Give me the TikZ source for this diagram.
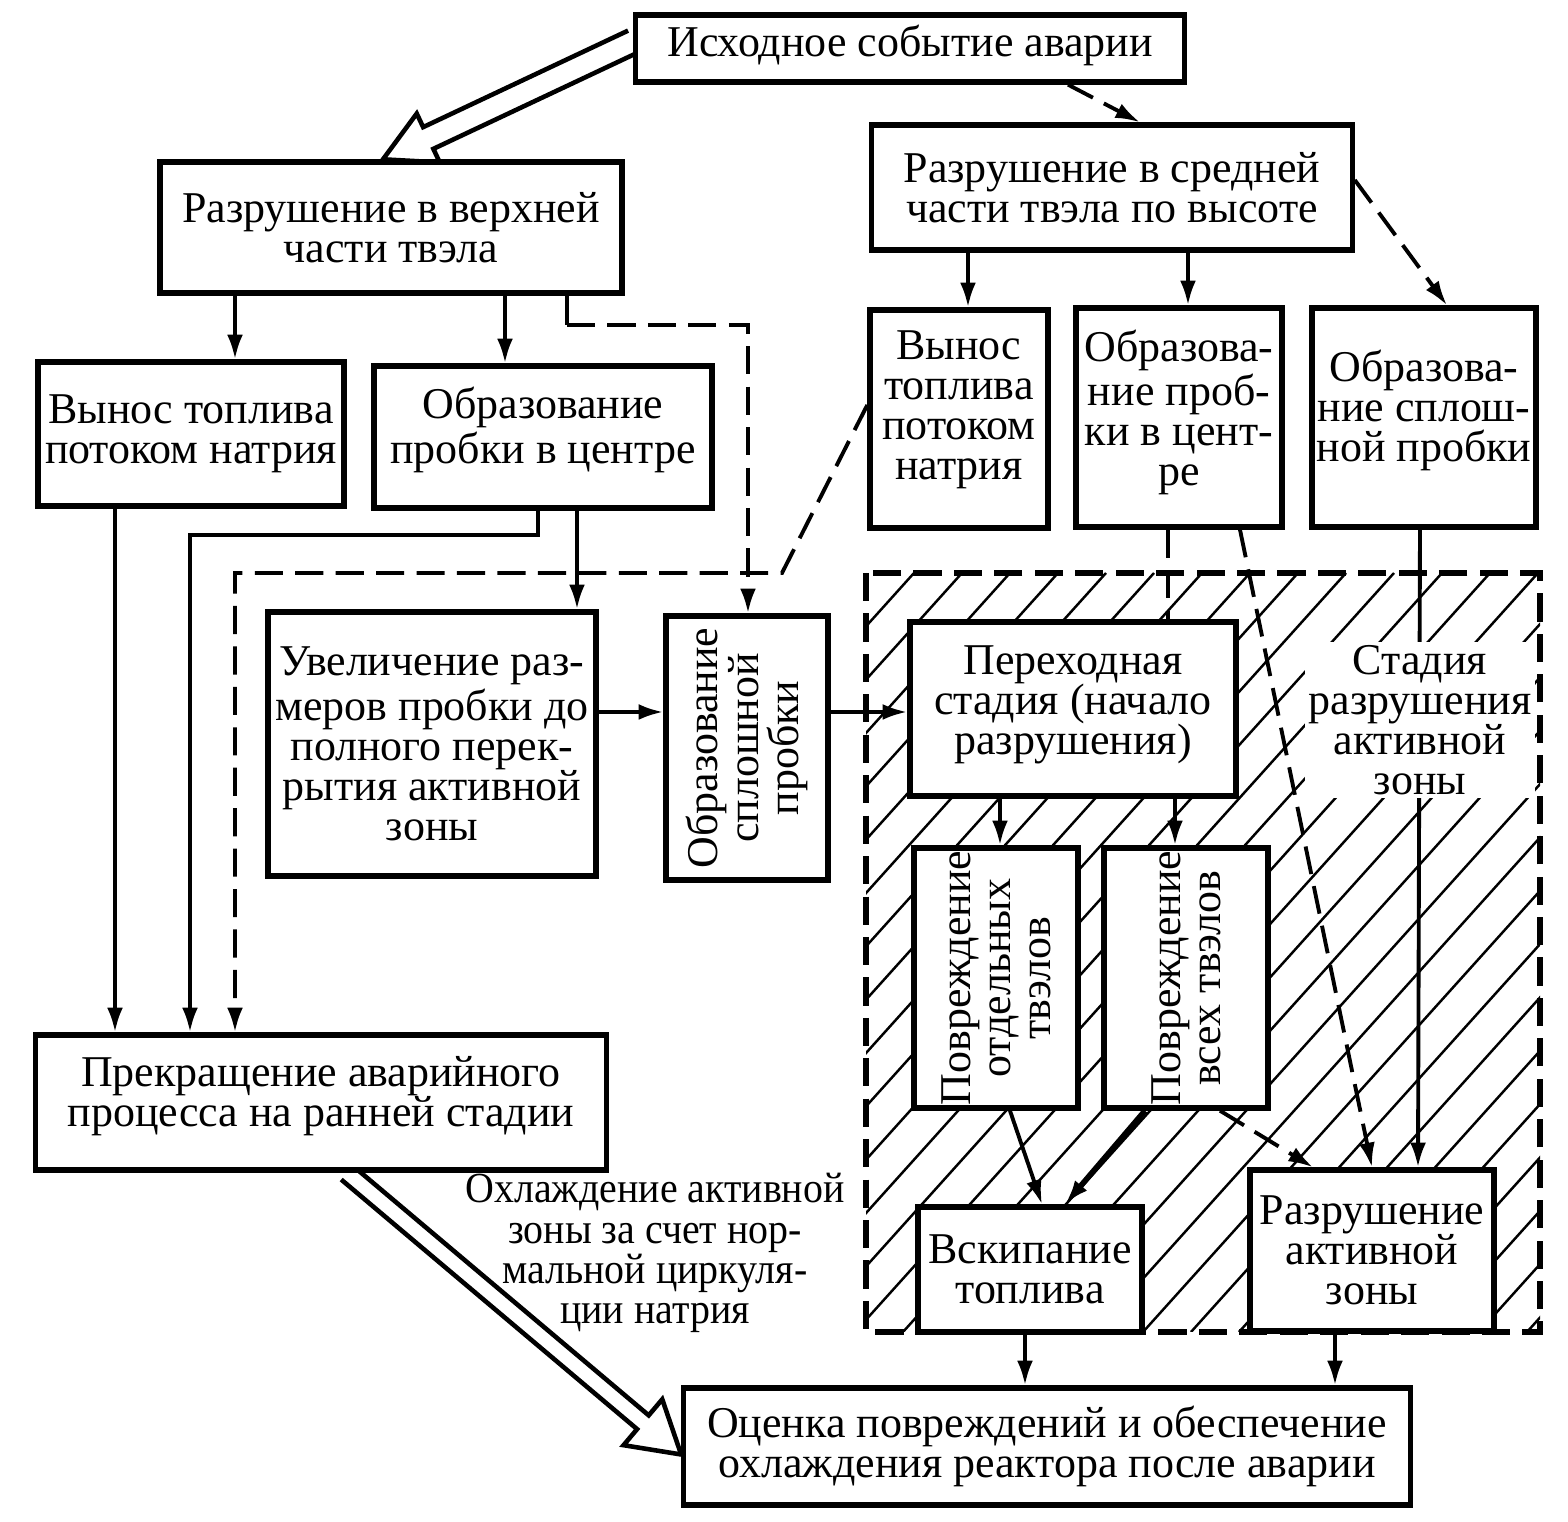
\documentclass[tikz,border=0pt]{standalone}
\usepackage{fontspec}
\setmainfont{Liberation Serif}
\newfontfamily\narrowfont{Liberation Serif}[FakeStretch=0.93]
\usetikzlibrary{arrows.meta,calc}
\pgfdeclarelayer{bg}
\pgfdeclarelayer{mid}
\pgfsetlayers{bg,mid,main}
\begin{document}
\begin{tikzpicture}[x=0.01cm,y=-0.01cm,
  box/.style={draw,line width=1.5pt,fill=white,inner sep=0pt},
  txt/.style={align=center,inner sep=1pt,font=\fontsize{12.5}{11.4}\selectfont},
  ln/.style={line width=1.1pt},
  ar/.style={line width=1.1pt,-{Latex[length=7pt,width=4.5pt]}},
  dsh/.style={dash pattern=on 8pt off 3.5pt},
  hollow/.style={line width=1.3pt,line join=miter},
  hatch/.style={line width=0.7pt}]
\useasboundingbox (0,0) rectangle (1568,1522);

% boxes
\node[box,minimum width=5.48cm,minimum height=0.67cm] (isx) at (910,48.5) {};
\node[box,minimum width=4.62cm,minimum height=1.31cm] (up) at (391,227.5) {};
\node[box,minimum width=4.80cm,minimum height=1.25cm] (mid) at (1112,187.5) {};
\node[box,minimum width=3.06cm,minimum height=1.44cm] (vynL) at (191,434) {};
\node[box,minimum width=3.38cm,minimum height=1.42cm] (obrL) at (543,437) {};
\node[box,minimum width=1.78cm,minimum height=2.18cm] (vynR) at (959,419) {};
\node[box,minimum width=2.06cm,minimum height=2.19cm] (obrR) at (1179,417.5) {};
\node[box,minimum width=2.24cm,minimum height=2.19cm] (splR) at (1424,417.5) {};
\node[box,minimum width=3.28cm,minimum height=2.64cm] (uvel) at (432,744) {};
\node[box,minimum width=1.62cm,minimum height=2.64cm] (spl) at (747,748) {};
\node[box,minimum width=3.26cm,minimum height=1.74cm] (perex) at (1073,709) {};
\node[box,minimum width=1.64cm,minimum height=2.60cm] (povO) at (996,978) {};
\node[box,minimum width=1.64cm,minimum height=2.60cm] (povV) at (1186,978) {};
\node[box,minimum width=5.70cm,minimum height=1.35cm] (prekr) at (321,1102.5) {};
\node[box,minimum width=2.24cm,minimum height=1.25cm] (vskip) at (1030,1269.5) {};
\node[box,minimum width=2.44cm,minimum height=1.61cm] (razAZ) at (1372,1250.5) {};
\node[box,minimum width=7.26cm,minimum height=1.17cm] (ocenka) at (1047,1446.5) {};

% texts
\node[txt] (isxT) at ([yshift=0.03cm]isx.center) {Исходное событие аварии};
\node[txt] (upT) at (up.center) {Разрушение в верхней\\части твэла};
\node[txt] (midT) at (mid.center) {Разрушение в средней\\части твэла по высоте};
\node[txt] (vynLT) at (vynL.center) {Вынос топлива\\потоком натрия};
\node[txt] (obrLT) at ([yshift=0.07cm]obrL.center) {Образование\\пробки в центре};
\node[txt] (vynRT) at ([yshift=0.09cm]vynR.center) {Вынос\\топлива\\потоком\\натрия};
\node[txt] (obrRT) at ([yshift=0.05cm]obrR.center) {Образова-\\ние проб-\\ки в цент-\\ре};
\node[txt] (splRT) at ([yshift=0.07cm]splR.center) {Образова-\\ние сплош-\\ной пробки};
\node[txt] (uvelT) at (uvel.center) {Увеличение раз-\\меров пробки до\\полного перек-\\рытия активной\\зоны};
\node[txt,rotate=90] (splT) at (spl.center) {Образование\\сплошной\\пробки};
\node[txt] (perexT) at ([yshift=0.04cm]perex.center) {Переходная\\стадия (начало\\разрушения)};
\node[txt,rotate=90] (povOT) at (povO.center) {Повреждение\\отдельных\\твэлов};
\node[txt,rotate=90] (povVT) at (povV.center) {Повреждение\\всех твэлов};
\node[txt] (prekrT) at ([yshift=0.06cm]prekr.center) {Прекращение аварийного\\процесса на ранней стадии};
\node[txt] (vskipT) at (vskip.center) {Вскипание\\топлива};
\node[txt] (razAZT) at (razAZ.center) {Разрушение\\активной\\зоны};
\node[txt] (ocenkaT) at (ocenka.center) {Оценка повреждений и обеспечение\\охлаждения реактора после аварии};
\node[txt,fill=white] (stad) at (1420,720) {Стадия\\разрушения\\активной\\зоны};
\node[txt,font=\narrowfont\fontsize{12.2}{11.4}\selectfont] (ohl) at (655,1253) {Охлаждение активной\\зоны за счет нор-\\мальной циркуля-\\ции натрия};

% hatched zone
\begin{pgfonlayer}{bg}
  \begin{scope}
    \clip (866,573) rectangle (1540,1332);
    \foreach \i in {0,...,30} {\draw[hatch] ({183+48*\i},1332) -- ++(683,-759);}
  \end{scope}
\end{pgfonlayer}

\begin{pgfonlayer}{mid}
  \draw[dsh,line width=1.5pt] (866,573) rectangle (1540,1332);
  % top part
  \draw[ar,dsh] (isx.south -| 1068,0) -- (mid.north -| 1140,0);
  \draw[ar] (up.south -| 235,0) -- (vynL.north -| 235,0);
  \draw[ar] (up.south -| 505,0) -- (obrL.north -| 505,0);
  \coordinate (c1) at (567,325);
  \draw[ln] (up.south -| 567,0) -- (c1);
  \draw[ar,dsh] (c1) -- (748,325) -- (spl.north -| 748,0);
  \draw[ar] (obrL.south -| 538,0) -- (538,535) -- (190,535) -- (prekr.north -| 190,0);
  \draw[ar] (obrL.south -| 577,0) -- (uvel.north -| 577,0);
  \draw[ar] (vynL.south -| 115,0) -- (prekr.north -| 115,0);
  \draw[ar,dsh] (vynR.west |- 0,405) -- (782,573) -- (235,573) -- (prekr.north -| 235,0);
  \draw[ar] (uvel.east |- 0,712) -- (spl.west |- 0,712);
  \draw[ar] (spl.east |- 0,712) -- (perex.west |- 0,712);
  \draw[ar] (mid.south -| 968,0) -- (vynR.north -| 968,0);
  \draw[ar,dsh] (mid.south -| 1188,0) -- (obrR.north -| 1188,0);
  \draw[ar,dsh] (mid.east |- 0,180) -- (splR.north -| 1447,0);
  % hatched zone connectors
  \draw[ln,dsh] (obrR.south -| 1168,0) -- (perex.north -| 1168,0);
  \draw[ar,dsh] (obrR.south -| 1240,0) -- (razAZ.north -| 1372,0);
  \draw[ar] (splR.south -| 1420,0) -- (razAZ.north -| 1418,0);
  \draw[ar] (perex.south -| 1000,0) -- (povO.north -| 1000,0);
  \draw[ar] (perex.south -| 1175,0) -- (povV.north -| 1175,0);
  \draw[ar] (povO.south -| 1010,0) -- (vskip.north -| 1042,0);
  \draw[ar,line width=1.6pt] (povV.south -| 1145,0) -- (vskip.north -| 1065,0);
  \draw[ar,dsh] (povV.south -| 1220,0) -- (razAZ.north -| 1313,0);
  \draw[ar] (vskip.south -| 1025,0) -- (ocenka.north -| 1025,0);
  \draw[ar,dsh] (razAZ.south -| 1335,0) -- (ocenka.north -| 1335,0);
  % hollow arrows
  \coordinate (a1s) at ([yshift=0.07cm]isx.west);
  \coordinate (a1t) at ([xshift=-0.08cm]up.north);
  \coordinate (a1h) at ($(a1t)!0.5cm!(a1s)$);
  \draw[hollow] ($(a1s)!0.12cm!90:(a1t)$) -- ($(a1h)!0.12cm!90:(a1t)$) -- ($(a1h)!0.27cm!90:(a1t)$) -- (a1t)
     -- ($(a1h)!0.27cm!-90:(a1t)$) -- ($(a1h)!0.12cm!-90:(a1t)$) -- ($(a1s)!0.12cm!-90:(a1t)$);
  \coordinate (a2s) at ([xshift=0.26cm]prekr.south);
  \coordinate (a2t) at ([yshift=-0.08cm]ocenka.west);
  \coordinate (a2h) at ($(a2t)!0.5cm!(a2s)$);
  \draw[hollow] ($(a2s)!0.09cm!90:(a2t)$) -- ($(a2h)!0.09cm!90:(a2t)$) -- ($(a2h)!0.3cm!90:(a2t)$) -- (a2t)
     -- ($(a2h)!0.3cm!-90:(a2t)$) -- ($(a2h)!0.09cm!-90:(a2t)$) -- ($(a2s)!0.09cm!-90:(a2t)$);
\end{pgfonlayer}
\end{tikzpicture}
\end{document}
